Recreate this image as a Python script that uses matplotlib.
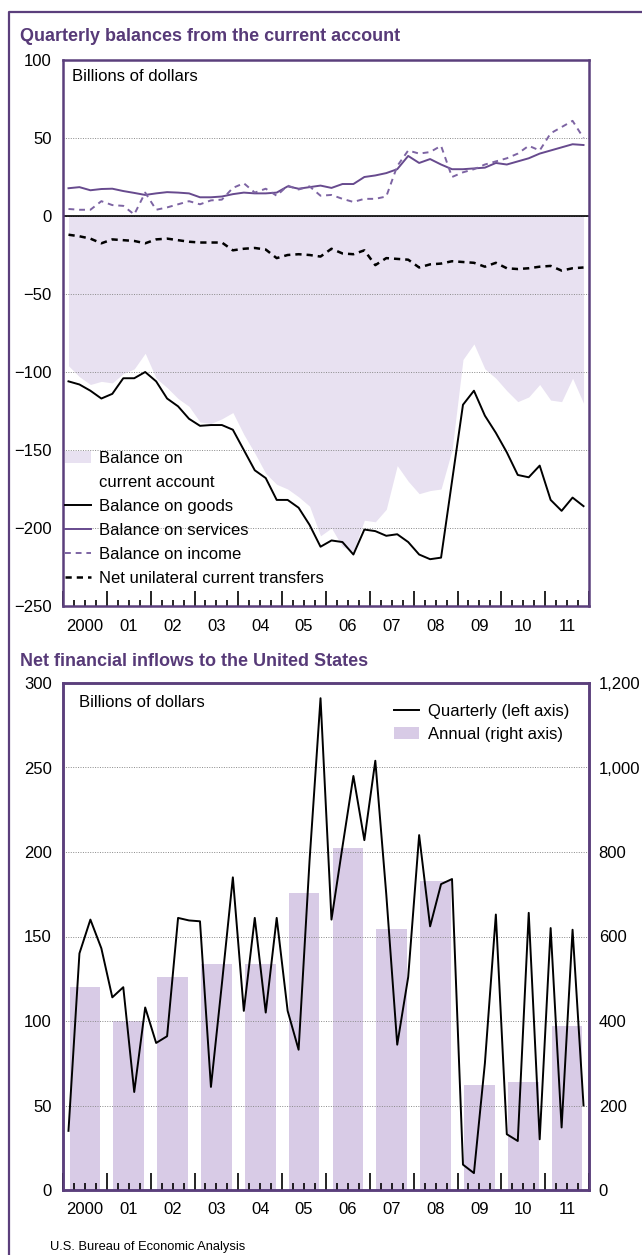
import matplotlib
matplotlib.use('Agg')
import matplotlib.pyplot as plt
import numpy as np
from matplotlib.lines import Line2D
from matplotlib.patches import Patch
from matplotlib.ticker import FuncFormatter, MultipleLocator

plt.rcParams['font.family'] = ['Liberation Sans', 'DejaVu Sans']

# ---------------- data ----------------
start_year = 2000
year_labels = ['2000', '01', '02', '03', '04', '05', '06', '07', '08', '09', '10', '11']

goods = [-106, -108, -112, -117, -114, -104, -104, -100, -106, -117,
         -122, -130, -134.5, -134, -134, -137, -150, -163, -168, -182,
         -182, -187, -198, -212, -208, -209, -217, -201, -202, -205,
         -204, -209, -217, -220, -219, -170, -121, -112, -128, -139,
         -151.5, -166, -167.5, -160, -182, -189, -180.5, -186]
services = [17.8, 18.5, 16.5, 17.3, 17.5, 16, 14.8, 13.5, 14.5, 15.3,
            15, 14.5, 12, 12, 12.5, 14, 15, 14.5, 14.5, 15,
            19, 17.5, 18.5, 19.5, 18, 20.5, 20.5, 25, 26, 27.5,
            30, 38.5, 34, 36.5, 33, 30, 30, 30.5, 31, 34,
            33, 35, 37, 40, 42, 44, 46, 45.5]
income = [4.5, 4, 4, 9.5, 7, 6.5, 1, 15, 4, 5.5,
          7.5, 9.5, 7.5, 10, 10.5, 18, 21, 15, 17.5, 13,
          19.5, 17, 19, 13, 13.5, 11, 9, 11, 11, 12.5,
          32, 42, 40, 41, 45, 25, 28, 30, 33, 35,
          37, 40, 45, 42, 53, 57, 61, 50]
transfers = [-12, -13, -14.5, -17.5, -15, -15.5, -16, -17.5, -15, -14.5,
             -15.5, -16.5, -17, -17, -17, -22, -21, -20.5, -21.5, -27,
             -25, -24.5, -25, -26, -21, -24, -24.5, -22, -31.5, -27,
             -27.5, -28, -33, -31, -30.5, -29, -29.5, -30, -32.5, -30,
             -33.5, -34, -33.5, -32.5, -32, -35, -33.5, -33]
current_account = [-96, -103, -108, -106, -107, -101, -98, -88, -104, -110,
                   -117, -122, -132, -133, -130, -126, -140, -152, -165, -172,
                   -175, -180, -186, -205, -200, -212, -215, -195, -196, -188,
                   -160, -170, -178, -176, -175, -150, -92, -82, -98, -104,
                   -112, -119, -116, -108, -118, -119, -104, -120]

quarterly_inflows = [35, 140, 160, 143, 114, 120, 58, 108, 87, 91,
                     161, 159.5, 159, 61, 122, 185, 106, 161, 105, 161,
                     106, 83, 195, 291, 160, 203, 245, 207, 254, 175,
                     86, 126, 210, 156, 181, 184, 15, 10, 75, 163,
                     33, 29, 164, 30, 155, 37, 154, 50]
annual_inflows = [480, 400, 504, 536, 534, 703, 810, 618, 731, 248, 256, 388]

# ---------------- style ----------------
W, H = 642, 1255
frame_c = '#5b3f7c'
title_c = '#573a78'
serv_c = '#674a8e'
inc_c = '#7d64a3'
fill_c = '#e8e1f1'
bar_c = '#d8cbe6'
grid_c = '#8a8a8a'

n_years = len(year_labels)
xq = start_year + (np.arange(len(goods)) + 0.5) / 4.0
xy = start_year + np.arange(n_years) + 0.5

fig = plt.figure(figsize=(W / 100, H / 100), dpi=100)
fig.patch.set_facecolor('white')

# outer frame (partial, purple)
fig.add_artist(Line2D([9 / W, 9 / W, 1.0], [0, 1 - 12 / H, 1 - 12 / H],
                      transform=fig.transFigure, color=frame_c, lw=1.6))


def style_xaxis(ax, pad, major_len, minor_len):
    ax.set_xlim(start_year, start_year + n_years)
    ax.xaxis.set_major_locator(MultipleLocator(1))
    ax.xaxis.set_minor_locator(MultipleLocator(0.25))
    ax.tick_params(axis='x', which='major', direction='in', length=major_len,
                   width=1.2, color='black', labelbottom=False, top=False)
    ax.tick_params(axis='x', which='minor', direction='in', length=minor_len,
                   width=1.2, color='black', top=False)
    sec = ax.secondary_xaxis('bottom')
    sec.set_xticks(xy, year_labels)
    sec.tick_params(axis='x', length=0, pad=pad, labelsize=12)
    sec.spines['bottom'].set_visible(False)
    for s in ax.spines.values():
        s.set_color(frame_c)
        s.set_linewidth(1.8)


# ---------------- top chart ----------------
ax1 = fig.add_axes([63 / W, 1 - 606 / H, 526 / W, 546 / H])
ax1.fill_between(xq, 0, current_account, color=fill_c, lw=0, zorder=1)
ax1.plot(xq, goods, color='black', lw=1.4, zorder=3)
ax1.plot(xq, services, color=serv_c, lw=1.4, zorder=3)
ax1.plot(xq, income, color=inc_c, lw=1.4, dashes=(3, 2.5), zorder=3)
ax1.plot(xq, transfers, color='black', lw=1.8, dashes=(2.5, 2), zorder=3)
ax1.axhline(0, color='black', lw=1.2, zorder=2.5)
ax1.set_ylim(-250, 100)
ax1.set_yticks(np.arange(-250, 101, 50))
ax1.tick_params(axis='y', length=0, pad=8, labelsize=12)
ax1.set_axisbelow('line')
ax1.grid(axis='y', color=grid_c, lw=0.7, ls=(0, (1, 1.5)))
style_xaxis(ax1, 9.5, 11, 4)
ax1.text(0.017, 0.969, 'Billions of dollars', transform=ax1.transAxes,
         fontsize=12, va='center', ha='left')

h_top = [Patch(facecolor=fill_c, edgecolor='none'),
         Line2D([], [], color='none'),
         Line2D([], [], color='black', lw=1.4),
         Line2D([], [], color=serv_c, lw=1.4),
         Line2D([], [], color=inc_c, lw=1.4, dashes=(3, 2.5)),
         Line2D([], [], color='black', lw=1.8, dashes=(2.5, 2))]
l_top = ['Balance on', 'current account', 'Balance on goods',
         'Balance on services', 'Balance on income',
         'Net unilateral current transfers']
ax1.legend(h_top, l_top, loc='upper left', bbox_to_anchor=(0.004, 0.284),
           frameon=False, fontsize=12, handlelength=1.55, handletextpad=0.5,
           labelspacing=0.54, borderpad=0, borderaxespad=0)

# ---------------- bottom chart ----------------
ax2 = fig.add_axes([63 / W, 1 - 1190 / H, 526 / W, 507 / H])
axr = ax2.twinx()
axr.bar(xy, annual_inflows, width=0.7, color=bar_c, lw=0, zorder=1)
axr.set_ylim(0, 1200)
axr.set_yticks(np.arange(0, 1201, 200))
axr.yaxis.set_major_formatter(FuncFormatter(lambda v, p: f'{v:,.0f}'))
axr.tick_params(axis='y', length=0, pad=7, labelsize=12)
for s in axr.spines.values():
    s.set_color(frame_c)
    s.set_linewidth(1.8)

ax2.set_zorder(axr.get_zorder() + 1)
ax2.patch.set_visible(False)
ax2.plot(xq, quarterly_inflows, color='black', lw=1.4, zorder=3)
ax2.set_ylim(0, 300)
ax2.set_yticks(np.arange(0, 301, 50))
ax2.tick_params(axis='y', length=0, pad=8, labelsize=12)
ax2.grid(axis='y', color=grid_c, lw=0.7, ls=(0, (1, 1.5)))
style_xaxis(ax2, 9, 12.5, 5)
ax2.text(0.031, 0.9625, 'Billions of dollars', transform=ax2.transAxes,
         fontsize=12, va='center', ha='left')
ax2.legend([Line2D([], [], color='black', lw=1.4),
            Patch(facecolor=bar_c, edgecolor='none')],
           ['Quarterly (left axis)', 'Annual (right axis)'],
           loc='upper left', bbox_to_anchor=(0.630, 0.958), frameon=False,
           fontsize=12, handlelength=1.5, handletextpad=0.5,
           labelspacing=0.45, borderpad=0, borderaxespad=0)

# ---------------- titles / source ----------------
fig.text(20 / W, 1 - 41 / H, 'Quarterly balances from the current account',
         color=title_c, fontsize=13, fontweight='bold', va='baseline',
         family=['Liberation Sans Narrow', 'Liberation Sans', 'DejaVu Sans'])
fig.text(20 / W, 1 - 666 / H, 'Net financial inflows to the United States',
         color=title_c, fontsize=13, fontweight='bold', va='baseline',
         family=['Liberation Sans Narrow', 'Liberation Sans', 'DejaVu Sans'])
fig.text(50 / W, 1 - 1250 / H, 'U.S. Bureau of Economic Analysis',
         color='black', fontsize=9.3, va='baseline',
         family=['Liberation Sans Narrow', 'Liberation Sans', 'DejaVu Sans'])

fig.savefig('out.png', dpi=100)
